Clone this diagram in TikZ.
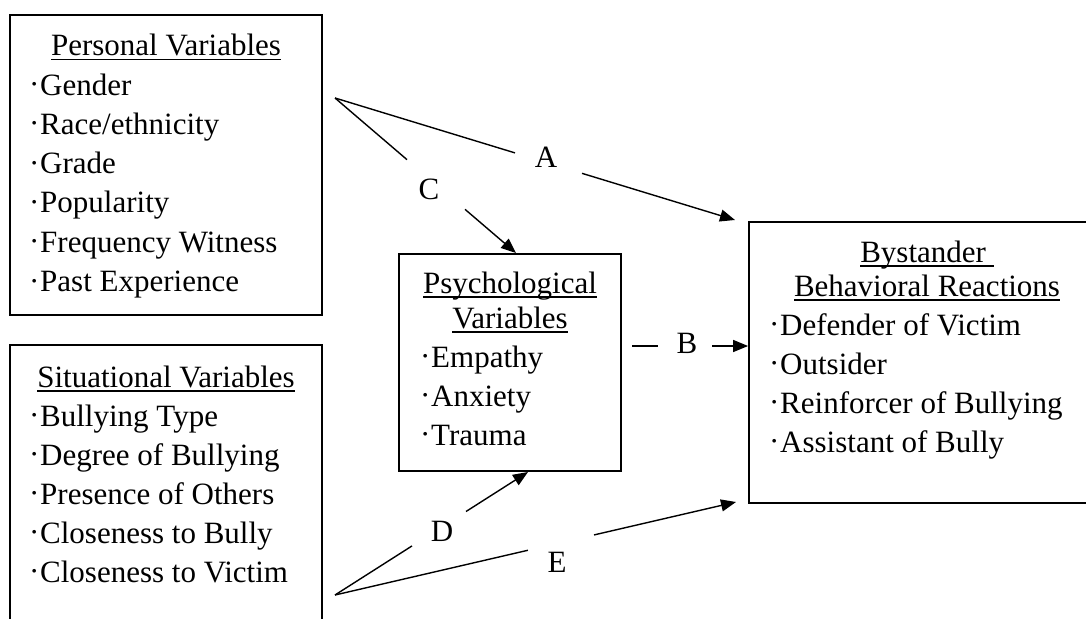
\documentclass[tikz,border=0pt]{standalone}
\usepackage{fontspec}
\setmainfont{Liberation Serif}
\usetikzlibrary{arrows.meta,calc}
\newcommand{\mdot}{\makebox[12pt][c]{\raisebox{0.5pt}{·}}}
\newcommand{\ulbar}[1]{\setbox0=\hbox{#1}\rlap{\rule[-4.5pt]{\wd0}{1.8pt}}\box0}
\tikzset{
  box/.style={draw, line width=1.8pt, rectangle, inner sep=0pt},
  ttl/.style={inner sep=0pt, anchor=base},
  itm/.style={inner sep=0pt, anchor=base west},
  lbl/.style={inner sep=0pt, anchor=base},
  conn/.style={line width=1.4pt},
  arr/.style={conn, -{Triangle[length=15pt,width=12pt]}}
}
\begin{document}
\begin{tikzpicture}[x=1pt, y=-1pt, font=\fontsize{31}{36}\selectfont]
\useasboundingbox (0,0) rectangle (1086,618);
% boxes
\node[box, minimum width=312pt, minimum height=300pt] (pv) at (166,165) {};
\node[box, minimum width=312pt, minimum height=300pt] (sv) at (166,495) {};
\node[box, minimum width=222pt, minimum height=217pt] (ps) at (510,362.5) {};
\node[box, minimum width=356pt, minimum height=281pt] (bys) at (927,362.5) {};
% personal
\node[ttl] (pvT) at (166,56) {\ulbar{Personal Variables}};
\foreach \t [count=\i from 0] in {Gender,Race/ethnicity,Grade,Popularity,Frequency Witness,Past Experience}
  \node[itm] (pv\i) at (28,95+39.3*\i) {\mdot\t};
% situational
\node[ttl] (svT) at (166,387) {\ulbar{Situational Variables}};
\foreach \t [count=\i from 0] in {Bullying Type,Degree of Bullying,Presence of Others,Closeness to Bully,Closeness to Victim}
  \node[itm] (sv\i) at (28,426+39*\i) {\mdot\t};
% psychological
\node[ttl] (psT1) at (510,293) {\ulbar{Psychological}};
\node[ttl] (psT2) at (510,328) {\ulbar{Variables}};
\foreach \t [count=\i from 0] in {Empathy,Anxiety,Trauma}
  \node[itm] (ps\i) at (419,367+39*\i) {\mdot\t};
% bystander
\node[ttl] (byT1) at (927,262) {\ulbar{Bystander\ }};
\node[ttl] (byT2) at (927,296) {\ulbar{Behavioral Reactions}};
\foreach \t [count=\i from 0] in {Defender of Victim,Outsider,Reinforcer of Bullying,Assistant of Bully}
  \node[itm] (by\i) at (768,335+39*\i) {\mdot\t};
% connector points
\coordinate (po) at (335,98);
\coordinate (so) at (335,595);
\coordinate (aT) at (735,220);
\coordinate (cT) at (516,253);
\coordinate (dT) at (528,472);
\coordinate (eT) at (736,502);
\coordinate (bS) at (632,346);
\coordinate (bT) at (bys.west |- bS);
% A
\draw[conn] (po) -- ($(po)!0.45!(aT)$);
\draw[arr] ($(po)!0.6175!(aT)$) -- (aT);
\node[lbl] (lA) at (546,167) {A};
% C
\draw[conn] (po) -- ($(po)!0.398!(cT)$);
\draw[arr] ($(po)!0.718!(cT)$) -- (cT);
\node[lbl] (lC) at (429,199) {C};
% B
\draw[conn] (bS) -- ($(bS)!0.222!(bT)$);
\draw[arr] ($(bS)!0.692!(bT)$) -- (bT);
\node[lbl] (lB) at (687,353) {B};
% D
\draw[conn] (so) -- ($(so)!0.399!(dT)$);
\draw[arr] ($(so)!0.679!(dT)$) -- (dT);
\node[lbl] (lD) at (442,541) {D};
% E
\draw[conn] (so) -- ($(so)!0.481!(eT)$);
\draw[arr] ($(so)!0.646!(eT)$) -- (eT);
\node[lbl] (lE) at (557,572) {E};
\end{tikzpicture}
\end{document}
